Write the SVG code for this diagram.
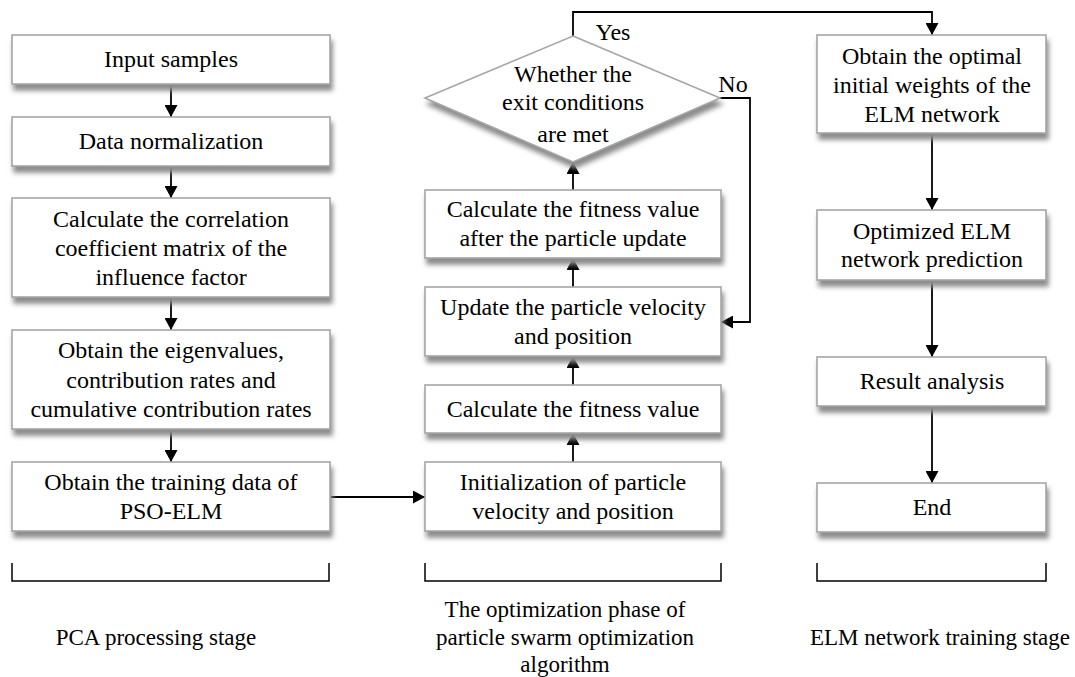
<svg xmlns="http://www.w3.org/2000/svg" width="1075" height="677" viewBox="0 0 1075 677">
<style>
.box{fill:#fff;stroke:#a6a6a6;stroke-width:1.6;filter:url(#sh)}
.t{font-family:"Liberation Serif","Times New Roman",serif;font-size:24px;fill:#000;text-anchor:middle}
.s{font-size:23px}
.c{fill:none;stroke:#000;stroke-width:1.8}
.br{fill:none;stroke:#000;stroke-width:1.5}
</style>
<defs>
<filter id="sh" x="-10%" y="-20%" width="125%" height="160%">
<feGaussianBlur in="SourceAlpha" stdDeviation="2.5" result="b"/>
<feOffset in="b" dx="2" dy="6" result="o"/>
<feFlood flood-color="#8c8c8c" result="f"/>
<feComposite in="f" in2="o" operator="in" result="s"/>
<feMerge><feMergeNode in="s"/><feMergeNode in="SourceGraphic"/></feMerge>
</filter>
<marker id="ah" viewBox="0 0 12 13" refX="12" refY="6.5" markerWidth="13" markerHeight="13" markerUnits="userSpaceOnUse" orient="auto">
<path d="M0,0 L12,6.5 L0,13 z" fill="#000"/>
</marker>
</defs>
<rect width="1075" height="677" fill="#fff"/>

<g id="connectors">
<path class="c" d="M171,84 V117" marker-end="url(#ah)"/>
<path class="c" d="M171,166 V198" marker-end="url(#ah)"/>
<path class="c" d="M171,297 V330" marker-end="url(#ah)"/>
<path class="c" d="M171,429 V462" marker-end="url(#ah)"/>
<path class="c" d="M330,497 H425" marker-end="url(#ah)"/>
<path class="c" d="M573,462 V433" marker-end="url(#ah)"/>
<path class="c" d="M573,385 V356" marker-end="url(#ah)"/>
<path class="c" d="M573,287 V258" marker-end="url(#ah)"/>
<path class="c" d="M573,190 V162" marker-end="url(#ah)"/>
<path class="c" d="M573,36 V12 H932 V35" marker-end="url(#ah)"/>
<path class="c" d="M720,98 H750 V322 H721" marker-end="url(#ah)"/>
<path class="c" d="M932,133 V210" marker-end="url(#ah)"/>
<path class="c" d="M932,280 V357" marker-end="url(#ah)"/>
<path class="c" d="M932,406 V483" marker-end="url(#ah)"/>
<text class="t" x="613" y="40">Yes</text>
<text class="t" x="733" y="92">No</text>
</g>

<g id="n_input"><rect class="box" x="12" y="35" width="318" height="49"/><text class="t" x="171" y="67">Input samples</text></g>
<g id="n_norm"><rect class="box" x="12" y="117" width="318" height="49"/><text class="t" x="171" y="149">Data normalization</text></g>
<g id="n_corr"><rect class="box" x="12" y="198" width="318" height="99"/><text class="t" x="171" y="227">Calculate the correlation</text><text class="t" x="171" y="256">coefficient matrix of the</text><text class="t" x="171" y="285">influence factor</text></g>
<g id="n_eig"><rect class="box" x="12" y="330" width="318" height="99"/><text class="t" x="171" y="358">Obtain the eigenvalues,</text><text class="t" x="171" y="388">contribution rates and</text><text class="t" x="171" y="417">cumulative contribution rates</text></g>
<g id="n_train"><rect class="box" x="12" y="462" width="318" height="69"/><text class="t" x="171" y="490">Obtain the training data of</text><text class="t" x="171" y="519">PSO-ELM</text></g>

<g id="n_init"><rect class="box" x="425" y="462" width="296" height="69"/><text class="t" x="573" y="490">Initialization of particle</text><text class="t" x="573" y="519">velocity and position</text></g>
<g id="n_fit"><rect class="box" x="425" y="385" width="296" height="48"/><text class="t" x="573" y="417">Calculate the fitness value</text></g>
<g id="n_upd"><rect class="box" x="425" y="287" width="296" height="69"/><text class="t" x="573" y="315">Update the particle velocity</text><text class="t" x="573" y="344">and position</text></g>
<g id="n_fit2"><rect class="box" x="425" y="190" width="296" height="68"/><text class="t" x="573" y="217">Calculate the fitness value</text><text class="t" x="573" y="246">after the particle update</text></g>
<g id="n_exit"><path class="box" d="M573,36 L720,98 L573,162 L425,98 Z"/><text class="t" x="573" y="82">Whether the</text><text class="t" x="573" y="110">exit conditions</text><text class="t" x="573" y="142">are met</text></g>

<g id="n_opt"><rect class="box" x="817" y="35" width="229" height="98"/><text class="t" x="932" y="64">Obtain the optimal</text><text class="t" x="932" y="93">initial weights of the</text><text class="t" x="932" y="122">ELM network</text></g>
<g id="n_pred"><rect class="box" x="817" y="210" width="229" height="70"/><text class="t" x="932" y="239">Optimized ELM</text><text class="t" x="932" y="267">network prediction</text></g>
<g id="n_res"><rect class="box" x="817" y="357" width="229" height="49"/><text class="t" x="932" y="389">Result analysis</text></g>
<g id="n_end"><rect class="box" x="817" y="483" width="229" height="49"/><text class="t" x="932" y="515">End</text></g>

<g id="stages">
<path class="br" d="M12,563 V581 H329 V563"/>
<path class="br" d="M425,563 V581 H721 V563"/>
<path class="br" d="M817,563 V581 H1046 V563"/>
<text class="t s" x="156" y="645">PCA processing stage</text>
<text class="t s" x="565" y="617">The optimization phase of</text>
<text class="t s" x="565" y="645">particle swarm optimization</text>
<text class="t s" x="565" y="672">algorithm</text>
<text class="t s" x="940" y="645">ELM network training stage</text>
</g>
</svg>
